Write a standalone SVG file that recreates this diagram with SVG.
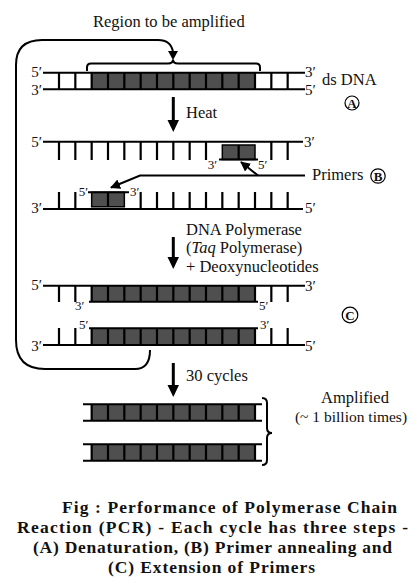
<svg xmlns="http://www.w3.org/2000/svg" width="413" height="582" viewBox="0 0 413 582" font-family="'Liberation Serif', 'DejaVu Serif', 'Times New Roman', serif">
<style>
text{font-family:"Liberation Serif","DejaVu Serif","Times New Roman",serif;fill:#111}
.lb{font-size:16.5px}
.end{font-size:15px}
.sm{font-size:13px}
.cap{font-size:17.5px;font-weight:bold}
.circ{font-size:13px;font-weight:bold;text-anchor:middle}
.s{stroke:#000;stroke-width:2;fill:none}
.t{stroke:#000;stroke-width:2.2}
.dk{fill:#4f4f4f}
.con{stroke:#000;stroke-width:2;fill:none}
.arr{stroke:#000;stroke-width:3}
</style>
<defs>
<marker id="ah" viewBox="0 0 10 10" refX="9" refY="5" markerWidth="5" markerHeight="5" orient="auto" markerUnits="strokeWidth">
<path d="M0,0 L10,5 L0,10 Z" fill="#000"/>
</marker>
</defs>

<text class="lb" x="93" y="27">Region to be amplified</text>

<g id="dsDNA">
<rect class="dk" x="91.67" y="72.7" width="163.33" height="16.6"/>
<path class="s" d="M43,72.7H305M43,89.3H305"/>
<path class="t" d="M59,72.7V89.3M75.33,72.7V89.3M91.67,72.7V89.3M108,72.7V89.3M124.33,72.7V89.3M140.67,72.7V89.3M157,72.7V89.3M173.33,72.7V89.3M189.67,72.7V89.3M206,72.7V89.3M222.33,72.7V89.3M238.67,72.7V89.3M255,72.7V89.3M271.33,72.7V89.3M287.67,72.7V89.3"/>
<path class="s" d="M87,71V67.5Q87,63.5 91,63.5H168Q173,63.5 173,59.5Q173,63.5 178,63.5H256Q260,63.5 260,67.5V71"/>
<text class="end" x="42" y="77" text-anchor="end">5′</text>
<text class="end" x="42" y="95" text-anchor="end">3′</text>
<text class="end" x="305" y="77">3′</text>
<text class="end" x="305" y="95">5′</text>
<text class="lb" x="322" y="85">ds DNA</text>
<circle cx="352" cy="103" r="7" fill="none" stroke="#000" stroke-width="1.2"/>
<text class="circ" x="352" y="107.6">A</text>
</g>

<g id="denatured-top">
<rect class="dk" x="222.33" y="145" width="32.67" height="14.5" stroke="#000" stroke-width="1.5"/>
<path class="s" d="M43,141.7H303M219,159.5H258"/>
<path class="t" d="M59,141.7V160M75.33,141.7V160M91.67,141.7V160M108,141.7V160M124.33,141.7V160M140.67,141.7V160M157,141.7V160M173.33,141.7V160M189.67,141.7V160M206,141.7V160M238.67,145V159.5M271.33,141.7V160M287.67,141.7V160"/>
<text class="end" x="42" y="146.5" text-anchor="end">5′</text>
<text class="end" x="304" y="146.5">3′</text>
<text class="sm" x="217" y="169" text-anchor="end">3′</text>
<text class="sm" x="258" y="169">5′</text>
</g>

<g id="denatured-bottom">
<rect class="dk" x="91.67" y="192.3" width="32.67" height="14.5" stroke="#000" stroke-width="1.5"/>
<path class="s" d="M43,209H303M88,192.3H129"/>
<path class="t" d="M59,192V209M75.33,192V209M108,192.3V207M140.67,192V209M157,192V209M173.33,192V209M189.67,192V209M206,192V209M222.33,192V209M238.67,192V209M255,192V209M271.33,192V209M287.67,192V209"/>
<text class="sm" x="88" y="196" text-anchor="end">5′</text>
<text class="sm" x="130" y="196">3′</text>
<text class="end" x="42" y="213" text-anchor="end">3′</text>
<text class="end" x="305" y="213">5′</text>
</g>

<g id="primers-label">
<text class="lb" x="312" y="180">Primers</text>
<circle cx="378" cy="176" r="7.2" fill="none" stroke="#000" stroke-width="1.2"/>
<text class="circ" x="378" y="180.6">B</text>
</g>

<g id="extended-top">
<rect class="dk" x="91.67" y="285.7" width="163.33" height="16"/>
<path class="s" d="M43,285.7H305M89,301.7H258"/>
<path class="t" d="M59,285.7V302M75.33,285.7V302M91.67,285.7V301.7M108,285.7V301.7M124.33,285.7V301.7M140.67,285.7V301.7M157,285.7V301.7M173.33,285.7V301.7M189.67,285.7V301.7M206,285.7V301.7M222.33,285.7V301.7M238.67,285.7V301.7M255,285.7V301.7M271.33,285.7V302M287.67,285.7V302"/>
<text class="end" x="42" y="290" text-anchor="end">5′</text>
<text class="end" x="305" y="291">3′</text>
<text class="sm" x="75" y="310">3′</text>
<text class="sm" x="259" y="310">5′</text>
</g>

<g id="extended-bottom">
<rect class="dk" x="91.67" y="328.3" width="163.33" height="16.7"/>
<path class="s" d="M89,328.3H258M43,345H305"/>
<path class="t" d="M59,328V345M75.33,328V345M91.67,328.3V345M108,328.3V345M124.33,328.3V345M140.67,328.3V345M157,328.3V345M173.33,328.3V345M189.67,328.3V345M206,328.3V345M222.33,328.3V345M238.67,328.3V345M255,328.3V345M271.33,328V345M287.67,328V345"/>
<text class="sm" x="79" y="329">5′</text>
<text class="sm" x="260" y="329">3′</text>
<text class="end" x="42" y="351" text-anchor="end">3′</text>
<text class="end" x="305" y="351">5′</text>
<circle cx="350" cy="315" r="7.8" fill="none" stroke="#000" stroke-width="1.2"/>
<text class="circ" x="350" y="319.6">C</text>
</g>

<g id="amplified-1">
<rect class="dk" x="91.67" y="404.3" width="163.33" height="16.4"/>
<path class="s" d="M83,404.3H262M83,420.7H262"/>
<path class="t" d="M91.67,404.3V420.7M108,404.3V420.7M124.33,404.3V420.7M140.67,404.3V420.7M157,404.3V420.7M173.33,404.3V420.7M189.67,404.3V420.7M206,404.3V420.7M222.33,404.3V420.7M238.67,404.3V420.7M255,404.3V420.7"/>
</g>

<g id="amplified-2">
<rect class="dk" x="91.67" y="444.3" width="163.33" height="16.4"/>
<path class="s" d="M83,444.3H262M83,460.7H262"/>
<path class="t" d="M91.67,444.3V460.7M108,444.3V460.7M124.33,444.3V460.7M140.67,444.3V460.7M157,444.3V460.7M173.33,444.3V460.7M189.67,444.3V460.7M206,444.3V460.7M222.33,444.3V460.7M238.67,444.3V460.7M255,444.3V460.7"/>
</g>

<g id="amplified-label">
<path class="s" d="M262,398Q267,398 267,403V428Q267,433 272,433Q267,433 267,438V460Q267,465 262,465"/>
<text class="lb" x="355" y="403" text-anchor="middle">Amplified</text>
<text x="351" y="421.5" text-anchor="middle" font-size="15.5">(~ 1 billion times)</text>
</g>

<g id="connectors">
<path class="con" d="M150,350Q150,369 135,369H45Q16,369 16,340V65Q16,40 42,40H158Q171,40 173,52"/>
<path d="M168,51L178,51L173,60Z" fill="#000"/>
<line class="arr" x1="173.3" y1="97" x2="173.3" y2="122"/>
<path d="M167.5,120L179,120L173.3,132Z" fill="#000"/>
<line class="arr" x1="173.3" y1="237" x2="173.3" y2="259"/>
<path d="M167.5,257L179,257L173.3,269Z" fill="#000"/>
<line class="arr" x1="173.3" y1="363" x2="173.3" y2="387"/>
<path d="M167.5,385L179,385L173.3,397Z" fill="#000"/>
<path class="con" d="M305,175.5H140L111,187.5" marker-end="url(#ah)"/>
<path class="con" d="M258,175.5L241,162" marker-end="url(#ah)"/>
</g>

<text class="lb" x="186" y="118">Heat</text>
<text class="lb" x="186" y="235">DNA Polymerase</text>
<text class="lb" x="186" y="253">(<tspan font-style="italic">Taq</tspan> Polymerase)</text>
<text class="lb" x="186" y="272">+ Deoxynucleotides</text>
<text class="lb" x="186" y="381">30 cycles</text>

<g id="caption">
<text class="cap" x="62" y="513" textLength="335" lengthAdjust="spacing">Fig  : Performance of Polymerase Chain</text>
<text class="cap" x="17" y="533" textLength="391" lengthAdjust="spacing">Reaction (PCR) - Each cycle has three steps -</text>
<text class="cap" x="33" y="553" textLength="359" lengthAdjust="spacing">(A) Denaturation,  (B) Primer  annealing  and</text>
<text class="cap" x="108" y="573" textLength="207" lengthAdjust="spacing">(C) Extension  of  Primers</text>
</g>
</svg>
